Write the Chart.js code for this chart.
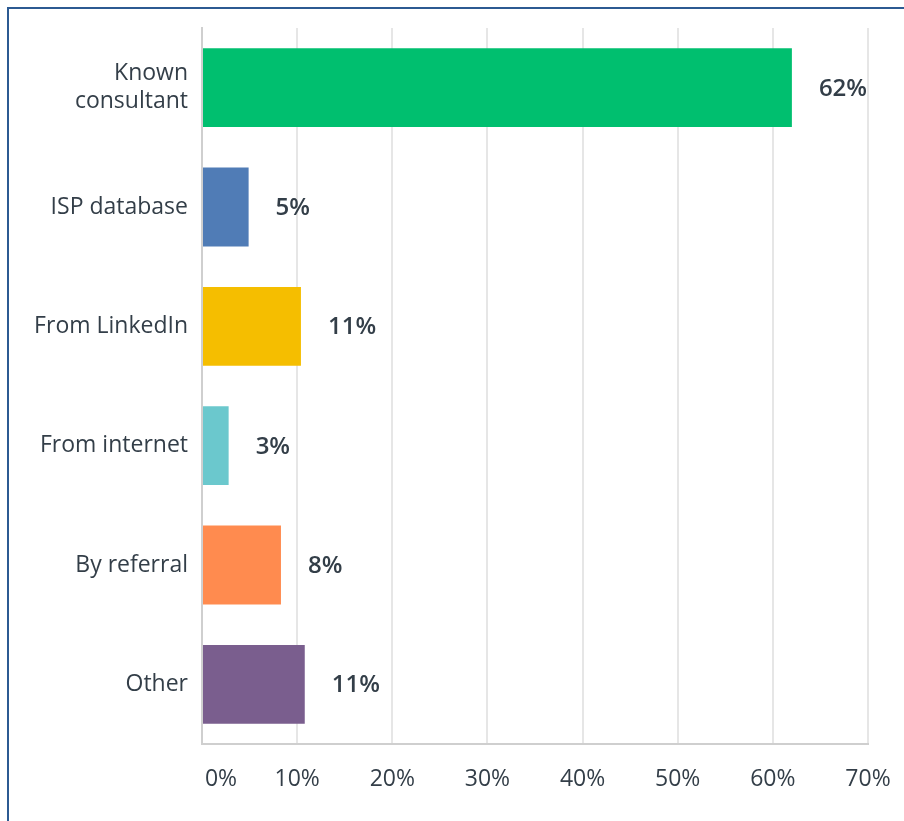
<!DOCTYPE html>
<html>
<head>
<meta charset="utf-8">
<script src="https://cdn.jsdelivr.net/npm/chart.js@4/dist/chart.umd.min.js"></script>
<style>
  html, body { margin: 0; padding: 0; background: #fff; overflow: hidden; }
  #frame {
    position: absolute; left: 7px; top: 7px; width: 1000px; height: 1000px;
    border-left: 2px solid #2c5a92; border-top: 2px solid #2c5a92;
  }
  #wrap { position: absolute; left: 0; top: 0; width: 904px; height: 821px; }
</style>
</head>
<body>
<div id="frame"></div>
<div id="wrap"><canvas id="myChart" width="904" height="821"></canvas></div>
<script>
const categories = [['Known', 'consultant'], 'ISP database', 'From LinkedIn', 'From internet', 'By referral', 'Other'];
const values = [62.0, 4.9, 10.4, 2.8, 8.3, 10.8];
const valueLabels = ['62%', '5%', '11%', '3%', '8%', '11%'];
const barColors = ['#00bf6f', '#507cb6', '#f5be00', '#6bc8cd', '#ff8b4f', '#7a5e8e'];
const xTicks = [0, 10, 20, 30, 40, 50, 60, 70];

const textColor = '#333e48';
const fontFamily = '"Open Sans", sans-serif';

// draws the percent next to each bar
const valueLabelPlugin = {
    id: 'valueLabels',
    afterDatasetsDraw(chart) {
        const ctx = chart.ctx;
        const meta = chart.getDatasetMeta(0);
        ctx.save();
        ctx.font = '600 24px ' + fontFamily;
        ctx.fillStyle = textColor;
        ctx.textAlign = 'left';
        ctx.textBaseline = 'middle';
        meta.data.forEach((bar, i) => {
            ctx.fillText(valueLabels[i], bar.x + 27, bar.y + 1);
        });
        ctx.restore();
    }
};

// the first x label sits a bit to the right of the zero line, like the original
const firstTickShift = {
    id: 'firstTickShift',
    beforeDraw(chart) {
        const items = chart.scales.x.getLabelItems();
        if (items.length && !items[0]._shifted) {
            items[0].options.translation[0] += 19;
            items[0]._shifted = true;
        }
    }
};

const ctx = document.getElementById('myChart').getContext('2d');

new Chart(ctx, {
    type: 'bar',
    data: {
        labels: categories,
        datasets: [{
            data: values,
            backgroundColor: barColors,
            borderWidth: 0,
            barPercentage: 0.66,
            categoryPercentage: 1.0
        }]
    },
    options: {
        indexAxis: 'y',
        responsive: false,
        animation: false,
        layout: { padding: { top: 28, right: 36, bottom: 17, left: 0 } },
        plugins: {
            legend: { display: false },
            tooltip: { enabled: false }
        },
        scales: {
            x: {
                min: 0,
                max: 70,
                afterBuildTicks: (axis) => { axis.ticks = xTicks.map(v => ({ value: v })); },
                afterFit: (axis) => {
                    axis.height = 60;
                    axis.paddingLeft = 0;
                    axis.paddingRight = 0;
                },
                grid: { color: '#e6e6e6', lineWidth: 2, drawTicks: false },
                border: { color: '#cfcfcf', width: 2 },
                ticks: {
                    padding: 22,
                    color: textColor,
                    font: { family: fontFamily, size: 23 },
                    callback: (v) => v + '%'
                }
            },
            y: {
                afterFit: (axis) => { axis.width = 202; },
                grid: { display: false, drawTicks: false },
                border: { color: '#cfcfcf', width: 2 },
                ticks: {
                    padding: 14,
                    color: textColor,
                    font: { family: fontFamily, size: 23, lineHeight: 1.2 }
                }
            }
        }
    },
    plugins: [valueLabelPlugin, firstTickShift]
});
</script>
</body>
</html>
